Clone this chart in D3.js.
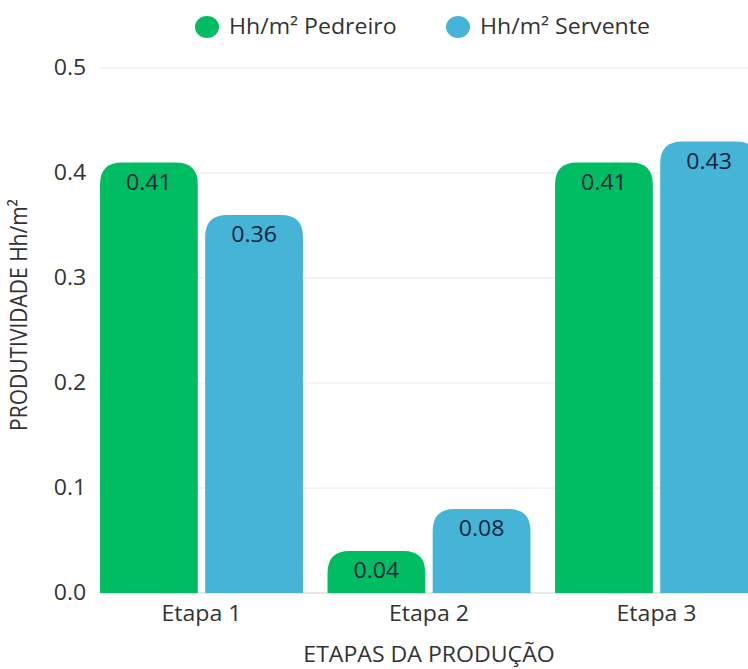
<!DOCTYPE html>
<html><head><meta charset="utf-8">
<script src="https://cdn.jsdelivr.net/npm/d3@7"></script>
<style>body{margin:0;background:#fff;font-family:"Open Sans",sans-serif;}</style>
</head><body><svg id="c" width="748" height="669"></svg>
<script>
const categories = ["Etapa 1","Etapa 2","Etapa 3"];
const seriesNames = ["Hh/m² Pedreiro","Hh/m² Servente"];
const pedreiro = [0.41, 0.04, 0.41];
const servente = [0.36, 0.08, 0.43];
const yTicks = [0.0, 0.1, 0.2, 0.3, 0.4, 0.5];
const colors = ["#00BC62","#45B4D6"];

const svg = d3.select("#c");
const FS = 21, SX = 1.1;
const x0 = 100, x1 = 758, yTop = 68, yBot = 593;
const x = d3.scaleBand().domain(categories).range([x0, x1]).paddingInner(0.108).paddingOuter(0);
const xs = d3.scaleBand().domain(seriesNames).range([0, x.bandwidth()]).paddingInner(0.07);
const y = d3.scaleLinear().domain([0, 0.5]).range([yBot, yTop]);

function stretched(sel, fx, fy){
  return sel.attr("transform", (d,i)=>`translate(${fx(d,i)},${fy(d,i)}) scale(${SX},1)`);
}

// gridlines
svg.append("g").selectAll("line").data(yTicks).join("line")
  .attr("x1", x0).attr("x2", 748).attr("y1", d=>y(d)).attr("y2", d=>y(d))
  .attr("stroke", d=> d===0 ? "#cfcfcf" : "#e8e8e8").attr("stroke-width", 1);

// y tick labels
stretched(svg.append("g").selectAll("text").data(yTicks).join("text"), ()=>70, d=>y(d))
  .attr("dy","0.35em").attr("text-anchor","middle")
  .attr("font-size", FS).attr("fill","#333").text(d=>d.toFixed(1));

const data = categories.map((c,i)=>({cat:c, vals:[pedreiro[i], servente[i]]}));
function topRounded(xp, yp, w, h, r){
  r = Math.min(r, h, w/2);
  return `M${xp},${yp+h}V${yp+r}Q${xp},${yp} ${xp+r},${yp}H${xp+w-r}Q${xp+w},${yp} ${xp+w},${yp+r}V${yp+h}Z`;
}
const g = svg.append("g").selectAll("g").data(data).join("g")
  .attr("transform", d=>`translate(${x(d.cat)},0)`);
const bars = g.selectAll("g").data(d=>d.vals.map((v,k)=>({v, s:seriesNames[k], k}))).join("g");
bars.append("path")
  .attr("d", d=>topRounded(xs(d.s), y(d.v), xs.bandwidth(), yBot - y(d.v), 22))
  .attr("fill", d=>colors[d.k]);
stretched(bars.append("text"), d=>xs(d.s)+xs.bandwidth()/2, d=>y(d.v)+27)
  .attr("text-anchor","middle").attr("font-size",FS).attr("fill","#15243a")
  .text(d=>d.v.toFixed(2));

// x labels
stretched(svg.append("g").selectAll("text").data(categories).join("text"), d=>x(d)+x.bandwidth()/2, ()=>621)
  .attr("text-anchor","middle").attr("font-size",FS).attr("fill","#333").text(d=>d);

svg.append("text").attr("transform", `translate(${(x0+x1)/2},662) scale(${SX},1)`).attr("text-anchor","middle")
  .attr("font-size",FS).attr("fill","#333").text("ETAPAS DA PRODUÇÃO");
svg.append("text").attr("transform",`translate(27,315) scale(${SX},1) rotate(-90)`)
  .attr("text-anchor","middle").attr("font-size",FS).attr("fill","#333").text("PRODUTIVIDADE Hh/m²");

// legend
const leg = svg.append("g");
const lx = [207, 458];
seriesNames.forEach((s,i)=>{
  leg.append("ellipse").attr("cx", lx[i]).attr("cy", 27).attr("rx", 12).attr("ry", 11).attr("fill", colors[i]);
  leg.append("text").attr("transform", `translate(${lx[i]+22},27) scale(${SX},1)`).attr("dy","0.35em")
    .attr("font-size",FS).attr("fill","#333").text(s);
});
</script></body></html>
